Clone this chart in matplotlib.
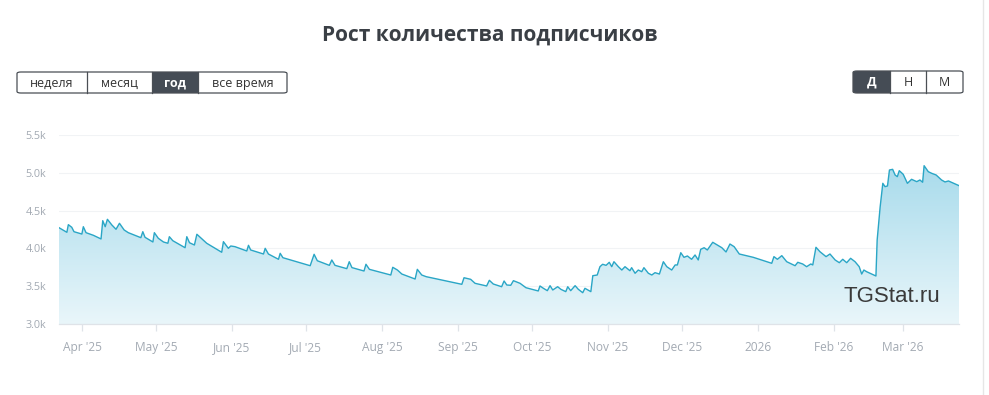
import numpy as np
import pandas as pd
import matplotlib
matplotlib.use("Agg")
import matplotlib.pyplot as plt
import matplotlib.dates as mdates
from matplotlib.patches import FancyBboxPatch, Rectangle
from matplotlib.lines import Line2D

# ---------------- data ----------------
BASE_DATE = "2025-04-01"
day_offsets = [
    -9.4, -6.2, -5.6, -4.2, -3.3, -0.1, 0.5, 1.6, 4.6, 7.7, 8.4, 9.4, 10.3, 12.1, 13.8,
    15.2, 17.1, 18.8, 23.9, 24.7, 25.6, 28.8, 29.4, 31.0, 33.1, 34.9, 35.5, 36.9, 41.9,
    42.6, 43.7, 45.7, 46.7, 50.7, 56.8, 57.5, 59.5, 60.5, 62.2, 67.0, 67.7, 68.6, 73.8,
    74.5, 75.8, 79.9, 80.6, 81.7, 88.7, 92.8, 94.4, 95.7, 100.6, 101.6, 102.9, 107.7,
    108.7, 109.8, 114.7, 115.5, 116.9, 125.6, 126.4, 128.3, 130.1, 135.5, 136.4, 138.2,
    140.0, 154.5, 155.4, 158.1, 159.9, 164.6, 165.7, 167.3, 170.7, 171.7, 172.8, 174.4,
    175.5, 178.2, 180.6, 185.6, 186.3, 187.7, 189.3, 190.4, 191.5, 193.5, 194.8, 196.8,
    197.6, 198.8, 200.6, 201.9, 203.7, 204.6, 207.0, 207.8, 209.6, 210.7, 211.8, 213.2,
    214.5, 215.5, 216.4, 218.2, 219.6, 220.9, 222.9, 223.6, 225.0, 226.3, 227.7, 228.6,
    230.4, 231.8, 233.1, 234.9, 236.5, 237.9, 239.9, 241.3, 242.2, 243.6, 244.9, 246.3,
    248.0, 249.4, 250.7, 251.7, 253.1, 254.4, 256.6, 258.9, 260.3, 262.0, 263.6, 265.3,
    267.4, 273.1, 280.6, 281.5, 282.9, 284.7, 286.7, 290.1, 291.2, 293.2, 294.8, 296.5,
    297.3, 298.6, 300.2, 302.7, 304.3, 306.4, 308.1, 309.5, 311.1, 312.7, 314.5, 316.2,
    317.2, 318.1, 319.2, 323.0, 323.5, 324.7, 325.8, 326.7, 327.7, 328.5, 329.8, 330.8,
    331.7, 332.5, 334.1, 335.8, 337.5, 339.6, 340.9, 342.0, 342.6, 344.3, 345.7, 347.5,
    349.7, 351.1, 352.5, 356.8,
]
subscribers = [
    4274, 4213, 4314, 4279, 4221, 4190, 4287, 4208, 4173, 4125, 4367, 4287, 4385, 4310, 4253,
    4332, 4244, 4208, 4142, 4221, 4147, 4085, 4208, 4134, 4085, 4068, 4155, 4102, 4009,
    4155, 4075, 4045, 4187, 4068, 3949, 4089, 4001, 4032, 4023, 3966, 4041, 3979, 3926,
    4001, 3926, 3856, 3935, 3877, 3811, 3771, 3922, 3837, 3776, 3847, 3776, 3732,
    3824, 3746, 3701, 3790, 3723, 3648, 3750, 3714, 3661, 3595, 3723, 3648,
    3626, 3525, 3612, 3591, 3538, 3503, 3578, 3529, 3493, 3569, 3516, 3512,
    3573, 3538, 3480, 3437, 3503, 3472, 3441, 3507, 3450, 3493, 3459, 3428,
    3493, 3441, 3507, 3459, 3414, 3472, 3428, 3639, 3648, 3758, 3790, 3776,
    3816, 3758, 3824, 3758, 3714, 3758, 3705, 3745, 3671, 3714, 3692, 3745,
    3671, 3648, 3679, 3661, 3824, 3758, 3714, 3781, 3781, 3943, 3882, 3900,
    3856, 3913, 3847, 3988, 4009, 3979, 4081, 4036, 4009, 3953, 4058, 4023,
    3926, 3882, 3803, 3891, 3856, 3904, 3824, 3771, 3816, 3794, 3758, 3794,
    3781, 4015, 3957, 3891, 3926, 3847, 3811, 3856, 3811, 3869, 3824, 3758,
    3661, 3714, 3692, 3635, 4111, 4544, 4861, 4817, 4826, 5037, 5046, 4971,
    4949, 5028, 4980, 4861, 4914, 4883, 4905, 4875, 5094, 5015, 4993, 4971,
    4905, 4879, 4892, 4830,
]
tick_months = ["2025-04-01", "2025-05-01", "2025-06-01", "2025-07-01", "2025-08-01",
               "2025-09-01", "2025-10-01", "2025-11-01", "2025-12-01", "2026-01-01",
               "2026-02-01", "2026-03-01"]
tick_labels = ["Apr '25", "May '25", "Jun '25", "Jul '25", "Aug '25", "Sep '25",
               "Oct '25", "Nov '25", "Dec '25", "2026", "Feb '26", "Mar '26"]
y_ticks = [3000, 3500, 4000, 4500, 5000, 5500]
y_tick_labels = ["3.0k", "3.5k", "4.0k", "4.5k", "5.0k", "5.5k"]
range_buttons = ["неделя", "месяц", "год", "все время"]
period_buttons = ["Д", "Н", "М"]
title_text = "Рост количества подписчиков"
watermark = "TGStat.ru"

# ---------------- figure ----------------
W, H = 989, 395
fig = plt.figure(figsize=(W / 100, H / 100), dpi=100)
fig.patch.set_facecolor("white")

def fx(px):
    return px / W

def fy(py):
    return 1 - py / H

ax_l, ax_r, ax_t, ax_b = 59, 959, 135, 324
ax = fig.add_axes([fx(ax_l), fy(ax_b), (ax_r - ax_l) / W, (ax_b - ax_t) / H])

dates = pd.Timestamp(BASE_DATE) + pd.to_timedelta(np.array(day_offsets), unit="D")
xnum = mdates.date2num(dates.to_pydatetime())
y = np.array(subscribers, dtype=float)

ymin, ymax = 3000, 5500
ax.set_xlim(xnum[0], xnum[-1])
ax.set_ylim(ymin, ymax)

# gradient fill
poly = ax.fill_between(xnum, y, ymin, color="none", lw=0)
grad = np.linspace(0, 1, 256).reshape(-1, 1)
top_c = np.array([0x9c, 0xd6, 0xe9]) / 255
bot_c = np.array([0xe9, 0xf6, 0xfa]) / 255
img = top_c[None, None, :] * (1 - grad[..., None]) + bot_c[None, None, :] * grad[..., None]
im = ax.imshow(img, aspect="auto", extent=[xnum[0], xnum[-1], ymin, ymax],
               origin="upper", zorder=1)
path = poly.get_paths()[0]
im.set_clip_path(path, transform=ax.transData)
ax.plot(xnum, y, color="#2aa6c6", lw=1.0, zorder=3, solid_joinstyle="round")

# grid
for t in y_ticks[1:]:
    ax.axhline(t, color="#f1f3f5", lw=0.8, zorder=0)

for s in ["top", "right", "left"]:
    ax.spines[s].set_visible(False)
ax.spines["bottom"].set_color("#dfe3e8")
ax.spines["bottom"].set_linewidth(0.9)

ax.set_yticks(y_ticks)
ax.set_yticklabels(y_tick_labels)
ax.tick_params(axis="y", length=0, pad=9, labelsize=7.8, labelcolor="#a3aab3")

tick_pos = mdates.date2num(pd.to_datetime(tick_months).to_pydatetime())
ax.set_xticks(tick_pos)
ax.set_xticklabels(tick_labels)
ax.tick_params(axis="x", length=5, width=0.9, color="#dfe3e8", pad=7,
               labelsize=8.6, labelcolor="#a3aab3")
for lab in ax.get_yticklabels() + ax.get_xticklabels():
    lab.set_fontfamily("Open Sans")

# watermark
fig.text(fx(843), fy(297), watermark, fontsize=16, color="#3a3a3a",
         family="Liberation Sans", ha="left", va="center")

# title
fig.text(fx(490), fy(35), title_text, fontsize=15, fontweight="bold",
         color="#3a3f45", ha="center", va="center", family="Open Sans")

# buttons
def button_group(edges, labels, selected, top, bottom):
    dark = "#454c55"
    border = "#4a4f55"
    h = bottom - top
    for i, lab in enumerate(labels):
        x0, x1 = edges[i], edges[i + 1]
        if i == selected:
            if i == 0:
                fig.add_artist(FancyBboxPatch((fx(x0), fy(bottom)), fx(x1 - x0), h / H,
                               boxstyle="round,pad=0,rounding_size=0.004",
                               transform=fig.transFigure, fc=dark, ec="none", zorder=2))
                fig.add_artist(Rectangle((fx(x0 + 6), fy(bottom)), fx(x1 - x0 - 6), h / H,
                               transform=fig.transFigure, fc=dark, ec="none", zorder=2))
            else:
                fig.add_artist(Rectangle((fx(x0), fy(bottom)), fx(x1 - x0), h / H,
                               transform=fig.transFigure, fc=dark, ec="none", zorder=2))
        fig.text(fx((x0 + x1) / 2), fy((top + bottom) / 2 + 0.5), lab,
                 fontsize=9, ha="center", va="center", family="Open Sans",
                 color="white" if i == selected else "#333333",
                 fontweight="bold" if i == selected else "normal", zorder=4)
        if 0 < i:
            fig.add_artist(Line2D([fx(x0), fx(x0)], [fy(top), fy(bottom)],
                           transform=fig.transFigure, color=border, lw=0.9, zorder=3))
    fig.add_artist(FancyBboxPatch((fx(edges[0]), fy(bottom)), fx(edges[-1] - edges[0]), h / H,
                   boxstyle="round,pad=0,rounding_size=0.004",
                   transform=fig.transFigure, fc="none", ec=border, lw=0.9, zorder=3))

button_group([17, 87, 152, 198, 287], range_buttons, 2, 72, 93)
button_group([853, 890, 926, 963], period_buttons, 0, 71, 93)

# right page border
fig.add_artist(Line2D([fx(983), fx(983)], [0, 1], transform=fig.transFigure,
               color="#e6e6e6", lw=1.0))

fig.savefig("out.png", dpi=100, facecolor="white")
